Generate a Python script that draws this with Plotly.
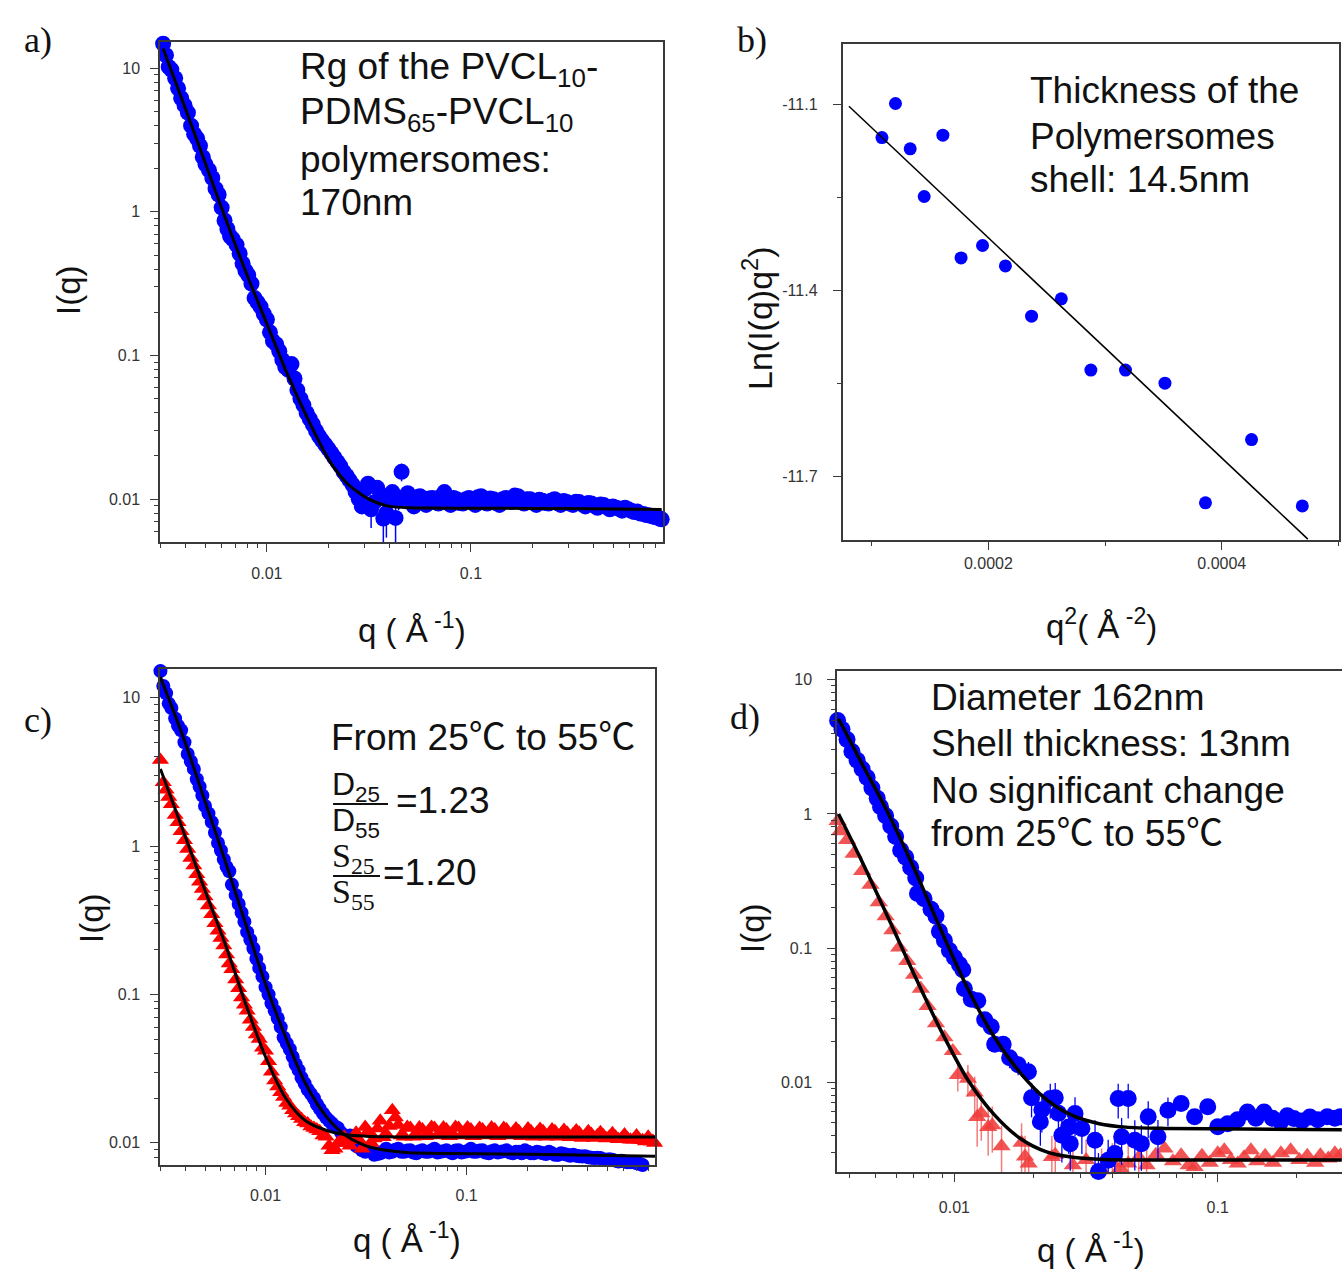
import plotly.graph_objects as go

W, H = 1342, 1271
SANS = "Liberation Sans, Arial, Noto Sans CJK SC, sans-serif"
SERIF = "Liberation Serif, Times New Roman, serif"

# ---------------- data: panel a (and shared q grids) ----------------
q_saxs = [0.0031, 0.0033, 0.00355, 0.0038, 0.0041, 0.0044, 0.0047, 0.0050, 0.0054, 0.0058,
          0.0062, 0.0066, 0.0071, 0.0076, 0.0081, 0.0087, 0.0093, 0.0100, 0.0107, 0.0115,
          0.0123, 0.0132, 0.0141, 0.0151, 0.0162, 0.0174, 0.0186, 0.0200, 0.0214, 0.0229,
          0.0246, 0.0263, 0.0282, 0.0302, 0.0324, 0.0347, 0.0372, 0.0398, 0.0427, 0.0457,
          0.049, 0.0525, 0.0562, 0.0603, 0.0646, 0.0692, 0.0741, 0.0794, 0.0851, 0.0912,
          0.0977, 0.105, 0.112, 0.120, 0.129, 0.138, 0.148, 0.158, 0.170, 0.182,
          0.195, 0.209, 0.224, 0.240, 0.257, 0.275, 0.295, 0.316, 0.339, 0.363,
          0.389, 0.417, 0.447, 0.479, 0.513, 0.550, 0.589, 0.631, 0.676, 0.724,
          0.776, 0.832, 0.86]
q_steep = [0.0032, 0.0034, 0.00367, 0.00395, 0.00425, 0.00455, 0.00485, 0.0052, 0.0056, 0.0060,
           0.0064, 0.0068, 0.00735, 0.00785, 0.0084, 0.0090, 0.00965, 0.01035, 0.0111, 0.0119,
           0.01275, 0.01365, 0.0146, 0.01565, 0.0168, 0.0180, 0.0193, 0.0207, 0.02215, 0.02375,
           0.02545, 0.0272]
q_flat_mid = [0.0292, 0.0313, 0.0335, 0.036, 0.0385, 0.0412, 0.0442, 0.0473, 0.0507, 0.0543,
              0.0582, 0.0624, 0.0669, 0.0716, 0.0767, 0.0822, 0.0881, 0.0944, 0.101, 0.108,
              0.116, 0.124, 0.133, 0.143, 0.153, 0.164, 0.176, 0.188, 0.202, 0.216,
              0.232, 0.248, 0.266, 0.285, 0.305, 0.327, 0.351, 0.376, 0.403, 0.432,
              0.463, 0.496, 0.531, 0.569, 0.61, 0.653, 0.70, 0.75, 0.80, 0.845]

I_a = [14.8, 10.2, 8.51, 6.17, 4.90, 3.47, 2.88, 2.14, 1.72, 1.32,
       0.87, 0.676, 0.589, 0.437, 0.363, 0.251, 0.219, 0.178, 0.126, 0.107,
       0.0832, 0.0871, 0.0575, 0.0452, 0.0363, 0.0299, 0.0257, 0.0224, 0.0195, 0.0170,
       0.0145, 0.0126, 0.0100, 0.0117, 0.00851, 0.0120, 0.00733, 0.0100, 0.00741, 0.0155,
       0.0110, 0.00891, 0.0105, 0.00912, 0.0102, 0.00933, 0.0112, 0.00912, 0.0100, 0.00933,
       0.0102, 0.00912, 0.0105, 0.00933, 0.0100, 0.00912, 0.0102, 0.00955, 0.0105, 0.00933,
       0.0100, 0.00912, 0.00977, 0.00933, 0.0100, 0.00912, 0.00955, 0.00912, 0.00955, 0.00891,
       0.00933, 0.00871, 0.00912, 0.00851, 0.00871, 0.00832, 0.00851, 0.00813, 0.00794, 0.00776,
       0.00759, 0.00741, 0.00724]
I_a_steep = [12.3, 9.77, 7.24, 5.50, 3.98, 3.24, 2.40, 1.95, 1.45, 1.07,
             0.759, 0.646, 0.513, 0.389, 0.316, 0.234, 0.195, 0.145, 0.120, 0.0933,
             0.0794, 0.0692, 0.0501, 0.0398, 0.0331, 0.0275, 0.0240, 0.0209, 0.0182, 0.0155,
             0.0135, 0.0112]
I_a_flat = [0.0089, 0.0128, 0.0095, 0.0108, 0.0080, 0.0112, 0.0098, 0.0104, 0.0097, 0.0103,
            0.0095, 0.0101, 0.0096, 0.0105, 0.0095, 0.0102, 0.0094, 0.0100, 0.0096, 0.0103,
            0.0095, 0.0101, 0.0094, 0.0100, 0.0097, 0.0106, 0.0096, 0.0100, 0.0095, 0.0099,
            0.0094, 0.0098, 0.0094, 0.0097, 0.0093, 0.0096, 0.0092, 0.0094, 0.0090, 0.0092,
            0.0088, 0.0089, 0.0086, 0.0087, 0.0083, 0.0082, 0.0079, 0.0077, 0.0075, 0.0073]
q_a_err = [0.0282, 0.0302, 0.0324, 0.0347, 0.0372, 0.0385, 0.0398, 0.0427, 0.0442, 0.0457, 0.049, 0.0525]
dI_a = [0.0015, 0.0012, 0.0022, 0.0015, 0.0028, 0.0026, 0.0016, 0.0027, 0.0014, 0.0022, 0.0010, 0.0010]
q_fit_a = [0.0031, 0.0040, 0.0050, 0.0063, 0.0079, 0.0100, 0.0126, 0.0158, 0.0200, 0.0224,
           0.0251, 0.0282, 0.0316, 0.0355, 0.0398, 0.0501, 0.0631, 0.100, 0.200, 0.400, 0.86]
I_fit_a = [13.7, 5.15, 2.16, 0.879, 0.378, 0.166, 0.0741, 0.0366, 0.0190, 0.0151,
           0.0126, 0.0111, 0.0100, 0.00933, 0.00891, 0.00871, 0.00867, 0.00865, 0.00863, 0.00859, 0.00847]

# ---------------- data: panel b ----------------
q2_b = [0.0001088, 0.0001204, 0.000133, 0.000145, 0.000161, 0.0001766, 0.000195, 0.0002146,
        0.000237, 0.0002625, 0.0002878, 0.0003175, 0.0003513, 0.000386, 0.0004255, 0.000469]
lnIq2_b = [-11.154, -11.099, -11.172, -11.249, -11.150, -11.348, -11.328, -11.361,
           -11.442, -11.414, -11.529, -11.529, -11.550, -11.743, -11.641, -11.748]
q2_fit_b = [0.0000805, 0.0004737]
ln_fit_b = [-11.1034, -11.8016]

# ---------------- data: panel c ----------------
q_c = [0.003] + q_saxs
I_c_25 = [15.1, 12.0, 9.12, 7.24, 6.03, 4.17, 3.31, 2.51, 1.86, 1.45, 1.05,
          0.813, 0.676, 0.468, 0.355, 0.263, 0.204, 0.151, 0.112, 0.0871, 0.0692,
          0.0513, 0.0427, 0.0339, 0.0275, 0.0229, 0.0200, 0.0170, 0.0148, 0.0135, 0.0126,
          0.0110, 0.0112, 0.00955, 0.00891, 0.00912, 0.00832, 0.00851, 0.00912, 0.00871, 0.00912,
          0.00871, 0.00891, 0.00851, 0.00891, 0.00871, 0.00912, 0.00871, 0.00891, 0.00851, 0.00891,
          0.00871, 0.00912, 0.00871, 0.00891, 0.00851, 0.00891, 0.00871, 0.00891, 0.00851, 0.00871,
          0.00891, 0.00851, 0.00871, 0.00851, 0.00871, 0.00832, 0.00851, 0.00832, 0.00832, 0.00813,
          0.00813, 0.00794, 0.00794, 0.00776, 0.00776, 0.00759, 0.00759, 0.00741, 0.00741, 0.00724,
          0.00708, 0.00692, 0.00692]
I_c_25_steep = [10.7, 8.51, 6.46, 5.01, 3.72, 2.82, 2.19, 1.66, 1.23, 0.933,
                0.724, 0.550, 0.407, 0.309, 0.234, 0.174, 0.132, 0.100, 0.0776, 0.0603,
                0.0468, 0.0380, 0.0309, 0.0251, 0.0214, 0.0182, 0.0158, 0.0141, 0.0129, 0.0117,
                0.0110, 0.0102]
I_c_25_flat = [0.0093, 0.0087, 0.0089, 0.0084, 0.0088, 0.0086, 0.0090, 0.0087, 0.0089, 0.0086,
               0.0088, 0.0087, 0.0089, 0.0086, 0.0088, 0.0087, 0.0089, 0.0086, 0.0088, 0.0087,
               0.0089, 0.0086, 0.0088, 0.0086, 0.0088, 0.0086, 0.0087, 0.0085, 0.0087, 0.0085,
               0.0086, 0.0084, 0.0085, 0.0083, 0.0084, 0.0082, 0.0082, 0.0081, 0.0080, 0.0079,
               0.0079, 0.0077, 0.0077, 0.0075, 0.0075, 0.0074, 0.0073, 0.0071, 0.0070, 0.0069]
I_c_55 = [3.80, 2.69, 2.14, 1.62, 1.26, 0.955, 0.741, 0.575, 0.457, 0.347, 0.269,
          0.214, 0.162, 0.126, 0.0955, 0.0776, 0.0603, 0.0501, 0.0417, 0.0302, 0.0240,
          0.0204, 0.0178, 0.0158, 0.0145, 0.0135, 0.0126, 0.0120, 0.0110, 0.00891, 0.0100,
          0.0110, 0.00955, 0.0117, 0.00912, 0.0120, 0.0107, 0.0141, 0.0115, 0.0166, 0.0132,
          0.0110, 0.0126, 0.0115, 0.0123, 0.0115, 0.0126, 0.0117, 0.0123, 0.0115, 0.0126,
          0.0117, 0.0123, 0.0115, 0.0123, 0.0117, 0.0123, 0.0115, 0.0123, 0.0117, 0.0120,
          0.0115, 0.0120, 0.0117, 0.0120, 0.0115, 0.0120, 0.0115, 0.0117, 0.0115, 0.0117,
          0.0112, 0.0115, 0.0112, 0.0112, 0.0110, 0.0110, 0.0107, 0.0107, 0.0105, 0.0105,
          0.0102, 0.0102, 0.0100]
I_c_55_steep = [2.40, 1.91, 1.445, 1.096, 0.832, 0.646, 0.513, 0.398, 0.302, 0.240,
                0.186, 0.148, 0.110, 0.0851, 0.0676, 0.0537, 0.0437, 0.0355, 0.0263, 0.0219,
                0.0186, 0.0166, 0.0151, 0.0138, 0.0129, 0.0123, 0.0112, 0.00955, 0.00912, 0.0102,
                0.0100, 0.0107]
I_c_55_flat = [0.0104, 0.0128, 0.0100, 0.0125, 0.0109, 0.0130, 0.0148, 0.0112, 0.0128, 0.0110,
               0.0127, 0.0111, 0.0128, 0.0112, 0.0127, 0.0111, 0.0128, 0.0112, 0.0127, 0.0111,
               0.0126, 0.0112, 0.0127, 0.0111, 0.0126, 0.0112, 0.0125, 0.0111, 0.0125, 0.0110,
               0.0124, 0.0110, 0.0123, 0.0110, 0.0122, 0.0109, 0.0121, 0.0108, 0.0120, 0.0108,
               0.0118, 0.0107, 0.0116, 0.0106, 0.0114, 0.0105, 0.0112, 0.0104, 0.0110, 0.0103]
q_fit_c = [0.003, 0.004, 0.005, 0.0063, 0.0079, 0.010, 0.0126, 0.0158, 0.020, 0.0251,
           0.0316, 0.0398, 0.0501, 0.0794, 0.251, 0.865]
I_fit_c_25 = [13.8, 4.90, 2.00, 0.794, 0.309, 0.117, 0.0513, 0.0251, 0.0151, 0.0112,
              0.00955, 0.00891, 0.00861, 0.00847, 0.00836, 0.00813]
I_fit_c_55 = [3.31, 1.148, 0.501, 0.219, 0.0891, 0.0380, 0.0200, 0.0141, 0.01216, 0.01135,
              0.0111, 0.01100, 0.01096, 0.01096, 0.01096, 0.01096]

# ---------------- data: panel d ----------------
q_d_25 = [0.0036, 0.00374, 0.00391, 0.00408, 0.00427, 0.00446, 0.00466, 0.00486, 0.00509, 0.00524,
          0.00548, 0.00573, 0.00598, 0.00625, 0.00653, 0.00682, 0.00713, 0.00724, 0.00767, 0.00815,
          0.00851, 0.00877, 0.00916, 0.00957, 0.0100, 0.01045, 0.01076, 0.01091, 0.01159, 0.01227,
          0.01303, 0.0138, 0.01422, 0.01531, 0.0162, 0.01746, 0.0191, 0.01963, 0.0212, 0.02148,
          0.02312, 0.02415, 0.02483, 0.02559, 0.02716, 0.02754, 0.02871, 0.03048, 0.0342, 0.03524,
          0.03837, 0.04064, 0.04188, 0.04315, 0.04571, 0.04842, 0.05129, 0.05445, 0.05929, 0.06471,
          0.07261, 0.08166, 0.09162, 0.1000, 0.1091, 0.1189, 0.1297, 0.1396, 0.1500, 0.1614,
          0.1734, 0.1837, 0.1945, 0.2089, 0.2239, 0.2399, 0.2606, 0.2786, 0.2924]
I_d_25 = [4.98, 4.29, 3.59, 2.92, 2.51, 2.16, 1.87, 1.56, 1.31, 1.13,
          0.970, 0.813, 0.679, 0.536, 0.475, 0.398, 0.333, 0.255, 0.233, 0.195,
          0.173, 0.133, 0.114, 0.0957, 0.0849, 0.0753, 0.0690, 0.0498, 0.0416, 0.0404,
          0.0292, 0.0259, 0.0192, 0.0192, 0.0152, 0.01346, 0.01194, 0.00766, 0.00506, 0.00622,
          0.00755, 0.00766, 0.00586, 0.00402, 0.00462, 0.00348, 0.00583, 0.00451, 0.00369, 0.00216,
          0.00262, 0.00294, 0.00755, 0.00391, 0.00755, 0.00369, 0.00348, 0.00551, 0.00391, 0.00618,
          0.00693, 0.00551, 0.00655, 0.00465, 0.0049, 0.00525, 0.0060, 0.00537, 0.0060, 0.00537,
          0.00506, 0.00562, 0.00536, 0.00513, 0.0055, 0.00525, 0.00551, 0.00537, 0.00551]
q_d_25_err = [0.0162, 0.01746, 0.0191, 0.01963, 0.0212, 0.02148, 0.02312, 0.02415, 0.02483, 0.02559,
              0.02716, 0.02754, 0.02871, 0.03048, 0.0342, 0.03524, 0.03837, 0.04064, 0.04188, 0.04315,
              0.04571, 0.04842, 0.05129, 0.05445, 0.05929, 0.06471]
dI_d_25 = [0.0025, 0.0022, 0.0022, 0.0022, 0.0017, 0.0020, 0.0022, 0.0022, 0.0019, 0.0015,
           0.0017, 0.0013, 0.0019, 0.0016, 0.0015, 0.0008, 0.0011, 0.0012, 0.0022, 0.0015,
           0.0022, 0.0015, 0.0013, 0.0017, 0.0013, 0.0015]
q_d_55 = [0.0036, 0.00368, 0.00391, 0.00414, 0.00446, 0.0048, 0.00516, 0.00548, 0.00581, 0.00617,
          0.00662, 0.00703, 0.00745, 0.00791, 0.00851, 0.00916, 0.00986, 0.0103, 0.01125, 0.01194,
          0.0122, 0.01265, 0.01343, 0.01393, 0.0151, 0.01799, 0.01854, 0.01914, 0.02344, 0.02415,
          0.02818, 0.03162, 0.03622, 0.0398, 0.04266, 0.04571, 0.05012, 0.0537, 0.0582, 0.0628,
          0.0676, 0.0726, 0.0776, 0.0817, 0.0871, 0.0933, 0.1000, 0.1059, 0.1122, 0.1191,
          0.1259, 0.1337, 0.1413, 0.1514, 0.1622, 0.1738, 0.1892, 0.2042, 0.2188, 0.2344,
          0.2455, 0.263, 0.2786, 0.2924]
I_d_55 = [0.887, 0.743, 0.640, 0.505, 0.375, 0.296, 0.220, 0.173, 0.136, 0.101,
          0.080, 0.0631, 0.0498, 0.037, 0.0275, 0.0216, 0.0171, 0.0113, 0.0106, 0.00838,
          0.0055, 0.00586, 0.00462, 0.00478, 0.00333, 0.00353, 0.00279, 0.00247, 0.00277, 0.00287,
          0.0024, 0.00263, 0.0022, 0.00251, 0.00229, 0.00247, 0.00275, 0.0024, 0.00288, 0.0032,
          0.00257, 0.00285, 0.0024, 0.00233, 0.00282, 0.00251, 0.00295, 0.00311, 0.00263, 0.00247,
          0.00275, 0.00311, 0.00257, 0.00282, 0.00251, 0.00295, 0.00311, 0.00263, 0.00282, 0.00251,
          0.00285, 0.00269, 0.00295, 0.00285]
q_d_55_err = [0.0103, 0.01125, 0.01194, 0.0122, 0.01265, 0.01343, 0.01393, 0.0151, 0.01799, 0.01854,
              0.01914, 0.02344, 0.02415, 0.02818, 0.03162, 0.03622, 0.0398, 0.04266, 0.04571, 0.05012, 0.0537]
dI_d_55 = [0.0028, 0.0028, 0.0026, 0.0022, 0.0022, 0.0018, 0.0018, 0.0014, 0.0014, 0.0012,
           0.0011, 0.0012, 0.0012, 0.0011, 0.0011, 0.0010, 0.0010, 0.0010, 0.0010, 0.0010, 0.0010]
q_fit_d = [0.00363, 0.00447, 0.00562, 0.00708, 0.00891, 0.01122, 0.01413, 0.01778, 0.02239, 0.02818,
           0.03548, 0.04467, 0.0631, 0.1259, 0.296]
I_fit_d_25 = [5.13, 2.34, 1.0, 0.380, 0.135, 0.0501, 0.0219, 0.01175, 0.00741, 0.00562,
              0.0049, 0.00462, 0.00452, 0.00447, 0.00442]
I_fit_d_55 = [1.0, 0.437, 0.166, 0.0617, 0.0240, 0.01047, 0.00575, 0.0038, 0.00302, 0.00275,
              0.00266, 0.00263, 0.00263, 0.00263, 0.00263]

# ---------------- helpers ----------------
def errs(q_all, q_sel, d_sel):
    lookup = dict(zip(q_sel, d_sel))
    return [lookup.get(q, 0.0) for q in q_all]

def dom_x(x0, x1):
    return [x0 / W, min(x1 / W, 1.0)]

def dom_y(y_top, y_bot):
    return [1 - y_bot / H, 1 - y_top / H]

BLUE = "#0000ff"
RED = "#ff0000"
RED_D = "rgba(240,60,60,0.88)"
AX = "#3a3a3a"

fig = go.Figure()

# panel a
qa_all = q_saxs + q_steep + q_flat_mid
Ia_all = I_a + I_a_steep + I_a_flat
fig.add_trace(go.Scatter(x=qa_all, y=Ia_all, mode="markers", xaxis="x", yaxis="y", cliponaxis=False,
                         marker=dict(symbol="circle", size=16, color=BLUE),
                         error_y=dict(type="data", array=errs(qa_all, q_a_err, dI_a), color=BLUE,
                                      thickness=1.5, width=0)))
fig.add_trace(go.Scatter(x=q_fit_a, y=I_fit_a, mode="lines", xaxis="x", yaxis="y",
                         line=dict(color="black", width=3, shape="spline", smoothing=0.8)))
# panel b
fig.add_trace(go.Scatter(x=q2_b, y=lnIq2_b, mode="markers", xaxis="x2", yaxis="y2", cliponaxis=False,
                         marker=dict(symbol="circle", size=13, color=BLUE)))
fig.add_trace(go.Scatter(x=q2_fit_b, y=ln_fit_b, mode="lines", xaxis="x2", yaxis="y2",
                         line=dict(color="black", width=1.5)))
# panel c
fig.add_trace(go.Scatter(x=q_c + q_steep + q_flat_mid, y=I_c_25 + I_c_25_steep + I_c_25_flat,
                         mode="markers", xaxis="x3", yaxis="y3", cliponaxis=False,
                         marker=dict(symbol="circle", size=14, color=BLUE)))
fig.add_trace(go.Scatter(x=q_c + q_steep + q_flat_mid, y=I_c_55 + I_c_55_steep + I_c_55_flat,
                         mode="markers", xaxis="x3", yaxis="y3", cliponaxis=False,
                         marker=dict(symbol="triangle-up", size=15, color=RED)))
fig.add_trace(go.Scatter(x=q_fit_c, y=I_fit_c_25, mode="lines", xaxis="x3", yaxis="y3",
                         line=dict(color="black", width=3, shape="spline", smoothing=0.8)))
fig.add_trace(go.Scatter(x=q_fit_c, y=I_fit_c_55, mode="lines", xaxis="x3", yaxis="y3",
                         line=dict(color="black", width=3, shape="spline", smoothing=0.8)))
# panel d
fig.add_trace(go.Scatter(x=q_d_55, y=I_d_55, mode="markers", xaxis="x4", yaxis="y4", cliponaxis=False,
                         marker=dict(symbol="triangle-up", size=16, color=RED_D),
                         error_y=dict(type="data", array=errs(q_d_55, q_d_55_err, dI_d_55),
                                      color="rgba(240,90,90,0.8)", thickness=1.5, width=0)))
fig.add_trace(go.Scatter(x=q_d_25, y=I_d_25, mode="markers", xaxis="x4", yaxis="y4", cliponaxis=False,
                         marker=dict(symbol="circle", size=17, color=BLUE),
                         error_y=dict(type="data", array=errs(q_d_25, q_d_25_err, dI_d_25),
                                      color=BLUE, thickness=1.3, width=0)))
fig.add_trace(go.Scatter(x=q_fit_d, y=I_fit_d_25, mode="lines", xaxis="x4", yaxis="y4",
                         line=dict(color="black", width=3.5, shape="spline", smoothing=0.8)))
fig.add_trace(go.Scatter(x=q_fit_d, y=I_fit_d_55, mode="lines", xaxis="x4", yaxis="y4",
                         line=dict(color="black", width=3.5, shape="spline", smoothing=0.8)))

# ---------------- axes ----------------
tickfont = dict(family=SANS, size=16, color="#333333")
base = dict(showline=True, linecolor=AX, linewidth=1.5, mirror=True, ticks="outside", ticklen=8,
            tickwidth=1.3, tickcolor=AX, showgrid=False, zeroline=False, tickfont=tickfont)
log_minor = [m * 10 ** e for e in range(-4, 2) for m in range(2, 10)]
minor_log = dict(tickmode="array", tickvals=log_minor, ticks="outside", ticklen=4, tickwidth=1,
                 tickcolor=AX, showgrid=False)
dec_vals = [0.01, 0.1, 1, 10]
dec_text = ["0.01", "0.1", "1", "10"]

fig.update_layout(
    width=W, height=H, margin=dict(l=0, r=0, t=0, b=0),
    paper_bgcolor="white", plot_bgcolor="white", showlegend=False,
    xaxis=dict(base, type="log", domain=dom_x(160, 663), range=[-2.524, -0.059], anchor="y",
               tickmode="array", tickvals=[0.01, 0.1], ticktext=["0.01", "0.1"], minor=minor_log,
               ticklabelstandoff=8),
    yaxis=dict(base, type="log", domain=dom_y(42, 542), range=[-2.298, 1.182], anchor="x",
               tickmode="array", tickvals=dec_vals, ticktext=dec_text, minor=minor_log,
               ticklabelstandoff=7),
    xaxis2=dict(base, domain=dom_x(842.5, 1338.5), range=[0.000075, 0.0005], anchor="y2",
                tickmode="array", tickvals=[0.0002, 0.0004], ticktext=["0.0002", "0.0004"],
                minor=dict(tickmode="array", tickvals=[0.0001, 0.0003, 0.0005], ticks="outside",
                           ticklen=4, tickwidth=1, tickcolor=AX)),
    yaxis2=dict(base, domain=dom_y(44, 540), range=[-11.803, -11.003], anchor="x2",
                tickmode="array", tickvals=[-11.1, -11.4, -11.7], ticktext=["-11.1", "-11.4", "-11.7"],
                minor=dict(tickmode="array", tickvals=[-11.25, -11.55], ticks="outside",
                           ticklen=4, tickwidth=1, tickcolor=AX),
                ticklabelstandoff=12),
    xaxis3=dict(base, type="log", domain=dom_x(160, 655), range=[-2.525, -0.063], anchor="y3",
                tickmode="array", tickvals=[0.01, 0.1], ticktext=["0.01", "0.1"], minor=minor_log,
                ticklabelstandoff=7),
    yaxis3=dict(base, type="log", domain=dom_y(669, 1165), range=[-2.149, 1.193], anchor="x3",
                tickmode="array", tickvals=dec_vals, ticktext=dec_text, minor=minor_log,
                ticklabelstandoff=7),
    xaxis4=dict(base, type="log", domain=dom_x(837, 1342), range=[-2.446, -0.528], anchor="y4",
                tickmode="array", tickvals=[0.01, 0.1], ticktext=["0.01", "0.1"], minor=minor_log,
                ticklabelstandoff=12),
    yaxis4=dict(base, type="log", domain=dom_y(671, 1172), range=[-2.67, 1.066], anchor="x4",
                mirror=False, tickmode="array", tickvals=dec_vals, ticktext=dec_text, minor=minor_log,
                ticklabelstandoff=12),
)

# ---------------- text ----------------
ann = []

def txt(x, y, s, size=37, family=SANS, xanchor="left", yanchor="middle", angle=0, color="#111111"):
    ann.append(dict(x=x / W, y=1 - y / H, xref="paper", yref="paper", text=s, showarrow=False,
                    xanchor=xanchor, yanchor=yanchor, textangle=angle,
                    font=dict(family=family, size=size, color=color)))

# panel labels
txt(38, 40, "a)", size=36, family=SERIF, xanchor="center")
txt(752, 40, "b)", size=36, family=SERIF, xanchor="center")
txt(38, 720, "c)", size=36, family=SERIF, xanchor="center")
txt(745, 717, "d)", size=36, family=SERIF, xanchor="center")

# axis titles
txt(68, 290, "I(q)", size=33, xanchor="center", angle=-90)
txt(412, 628, "q ( Å<sup> -1</sup>)", size=33, xanchor="center")
txt(757, 318, "Ln(I(q)q<sup>2</sup>)", size=34, xanchor="center", angle=-90)
txt(1101, 624, "q<sup>2</sup>( Å<sup> -2</sup>)", size=33, xanchor="center")
txt(91, 918, "I(q)", size=33, xanchor="center", angle=-90)
txt(407, 1238, "q ( Å<sup> -1</sup>)", size=33, xanchor="center")
txt(752, 928, "I(q)", size=33, xanchor="center", angle=-90)
txt(1091, 1248, "q ( Å<sup> -1</sup>)", size=33, xanchor="center")

# panel a note
txt(298, 69, "Rg of the PVCL<sub>10</sub>-")
txt(298, 114, "PDMS<sub>65</sub>-PVCL<sub>10</sub>")
txt(298, 159, "polymersomes:")
txt(298, 203, "170nm")
# panel b note
txt(1028, 91, "Thickness of the")
txt(1028, 136, "Polymersomes")
txt(1028, 180, "shell: 14.5nm")
# panel c note
txt(329, 737, "From 25℃ to 55℃")
txt(330, 786, "D<sub>25</sub>", size=32)
txt(330, 823, "D<sub>55</sub>", size=32)
txt(394, 800, "=1.23")
txt(330, 858, "S<sub>25</sub>", size=34, family=SERIF)
txt(330, 894, "S<sub>55</sub>", size=34, family=SERIF)
txt(381, 872, "=1.20")
# panel d note
txt(929, 697, "Diameter 162nm")
txt(929, 743, "Shell thickness: 13nm")
txt(929, 790, "No significant change")
txt(929, 833, "from 25℃ to 55℃")

fig.update_layout(annotations=ann)

# fraction bars in panel c
for (x0, x1, y) in [(333, 388, 804), (333, 380, 876)]:
    fig.add_shape(type="line", xref="paper", yref="paper", x0=x0 / W, x1=x1 / W,
                  y0=1 - y / H, y1=1 - y / H, line=dict(color="#111111", width=2))

fig.write_html("out.html", config={"displayModeBar": False},
               post_script="document.body.style.margin='0px';document.body.style.overflow='hidden';")
